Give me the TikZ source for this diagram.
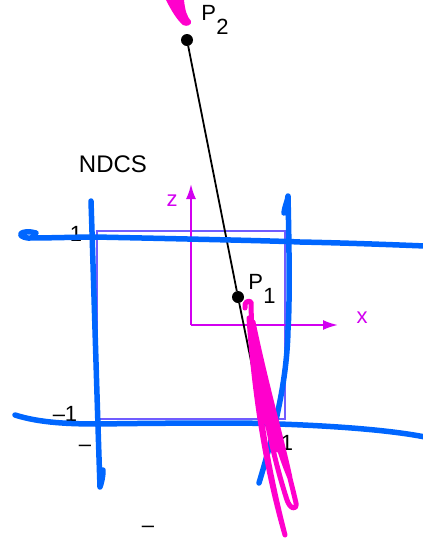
\documentclass[tikz,border=0pt]{standalone}
\usepackage{fontspec}
\setmainfont{Liberation Sans}
\usetikzlibrary{arrows.meta}
\definecolor{ndcsblue}{RGB}{0,102,255}
\definecolor{sqpurple}{RGB}{112,92,255}
\definecolor{axmag}{RGB}{210,0,240}
\definecolor{scrib}{RGB}{255,0,204}
\newcommand{\sublab}[2]{#1\kern0.02em\raisebox{-0.6em}{#2}}
\tikzset{
  lab/.style={inner sep=0pt, font=\fontsize{22}{24}\selectfont, text=black},
  axlab/.style={inner sep=0pt, font=\fontsize{22}{24}\selectfont, text=axmag},
  axis/.style={draw=axmag, line width=2pt, -{Latex[length=15pt,width=10pt]}},
  pt/.style={circle, fill=black, inner sep=0pt, minimum size=12pt},
  bluestroke/.style={draw=ndcsblue, line width=5.5pt, line cap=round, line join=round},
  scribble/.style={draw=scrib, line width=5pt, line cap=round, line join=round},
}
\begin{document}
\begin{tikzpicture}[x=1pt,y=-1pt]
\useasboundingbox (0,0) rectangle (423,539);
% unit square
\draw[sqpurple, line width=2pt] (97,231) rectangle (285,419);
% axes
\coordinate (O) at (191,325);
\coordinate (ztip) at (191,184);
\coordinate (xtip) at (338,325);
\draw[axis] (O) -- (ztip);
\draw[axis] (O) -- (xtip);
\node[axlab] (zl) at (172,201) {z};
\node[axlab] (xl) at (362,318) {x};
% points and line
\node[pt] (P2) at (187,40) {};
\node[pt] (P1) at (238,297) {};
\coordinate (Pend) at (264,425);
\draw[black, line width=1.8pt] (P2) -- (P1) -- (Pend);
\node[lab] (P2l) at (215,20) {\sublab{P}{2}};
\node[lab] (P1l) at (262,289) {\sublab{P}{1}};
% texts
\node[lab, font=\fontsize{24}{26}\selectfont] (ndcs) at (113,164) {NDCS};
\node[lab] (one) at (76,234) {1};
\node[lab] (mone) at (65,414) {–1};
\node[lab] (mone2) at (85,448) {–};
\node[lab] (onex) at (287,443) {1};
\node[lab, anchor=south] (dash) at (148,533) {–};
% blue strokes
\draw[bluestroke] (36,233) .. controls (22,229) and (14,236) .. (28,238)
  .. controls (50,238) and (80,237) .. (95,237)
  .. controls (190,239) and (280,241) .. (300,242)
  .. controls (350,243) and (400,245) .. (425,246);
\draw[bluestroke] (15,415) .. controls (40,423) and (70,424) .. (100,424)
  .. controls (160,423) and (220,423) .. (240,423)
  .. controls (300,424) and (380,428) .. (425,437);
\draw[bluestroke] (91,201) .. controls (93,260) and (97,400) .. (100,487)
  .. controls (101,484) and (103,478) .. (103,470);
\draw[bluestroke] (284,213) .. controls (285,205) and (288,200) .. (288,196)
  .. controls (289,240) and (290,300) .. (288,330)
  .. controls (287,380) and (275,430) .. (259,483);
% magenta scribbles
\fill[scrib] (166,0) -- (184,0) .. controls (185,10) and (187,17) .. (191,21)
  .. controls (192,25) and (187,27) .. (183,25)
  .. controls (177,20) and (171,10) .. (166,0) -- cycle;
\draw[scribble] (245,308) .. controls (244,302) and (248,300) .. (251,302)
  .. controls (252,380) and (268,470) .. (285,535)
  .. controls (272,490) and (256,420) .. (249,318)
  .. controls (264,380) and (286,460) .. (296,503)
  .. controls (297,511) and (290,509) .. (287,500)
  .. controls (274,460) and (260,400) .. (253,322)
  .. controls (266,385) and (282,440) .. (290,478)
  .. controls (279,452) and (266,410) .. (257,350)
  .. controls (264,385) and (272,425) .. (278,450);
\end{tikzpicture}
\end{document}
